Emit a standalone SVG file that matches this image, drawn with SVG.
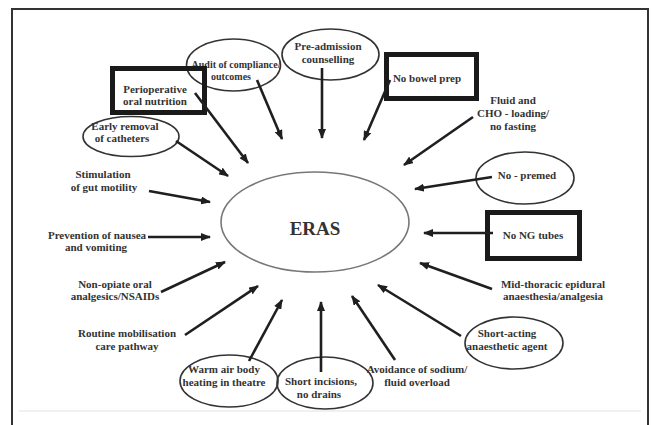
<svg xmlns="http://www.w3.org/2000/svg" width="652" height="425" viewBox="0 0 652 425">
<style>
.t{font-family:"Liberation Serif","Times New Roman",serif;font-weight:bold;font-size:11px;fill:#333;text-anchor:middle}
.el{fill:none;stroke:#333;stroke-width:1.6}
.bx{fill:none;stroke:#1a1a1a;stroke-width:5}
.ar{stroke:#1f1f1f;stroke-width:2.6;fill:none;marker-end:url(#ah)}
</style>
<defs>
<marker id="ah" viewBox="0 0 10 8" markerWidth="10" markerHeight="8" refX="9" refY="4" orient="auto" markerUnits="userSpaceOnUse">
<path d="M0,0 L10,4 L0,8 z" fill="#1f1f1f"/>
</marker>
</defs>
<rect width="652" height="425" fill="#fff"/>
<path d="M12,430 V9 H648 V430" fill="none" stroke="#333" stroke-width="2"/>
<line x1="19" y1="411" x2="641" y2="411" stroke="#e2e2e2" stroke-width="1"/>

<g id="eras">
<ellipse cx="315" cy="222" rx="94" ry="50" fill="none" stroke="#777" stroke-width="1.6"/>
<text x="315" y="235" class="t" style="font-size:19px">ERAS</text>
</g>

<g id="audit">
<ellipse class="el" cx="233.5" cy="65" rx="47" ry="26"/>
<text class="t" x="236" y="68" style="font-size:10px">Audit of compliance/</text>
<text class="t" x="231" y="80" style="font-size:10px">outcomes</text>
</g>
<g id="preadmission">
<ellipse class="el" cx="330.5" cy="54.5" rx="48.5" ry="25.5"/>
<text class="t" x="328" y="50">Pre-admission</text>
<text class="t" x="328" y="63">counselling</text>
</g>
<g id="periop">
<rect class="bx" x="112.5" y="68.5" width="92" height="44"/>
<text class="t" x="155" y="93">Perioperative</text>
<text class="t" x="155" y="105">oral nutrition</text>
</g>
<g id="early">
<ellipse class="el" cx="131" cy="136.5" rx="48" ry="20"/>
<text class="t" x="125" y="130">Early removal</text>
<text class="t" x="122" y="142">of catheters</text>
</g>
<g id="stim">
<text class="t" x="103" y="178">Stimulation</text>
<text class="t" x="104" y="191">of gut motility</text>
</g>
<g id="bowel">
<rect class="bx" x="386.5" y="54.5" width="90" height="44"/>
<text class="t" x="427" y="82">No bowel prep</text>
</g>
<g id="fluid">
<text class="t" x="513" y="104">Fluid and</text>
<text class="t" x="513" y="117">CHO - loading/</text>
<text class="t" x="513" y="130">no fasting</text>
</g>
<g id="premed">
<ellipse class="el" cx="525" cy="178" rx="49" ry="26"/>
<text class="t" x="527" y="179">No - premed</text>
</g>
<g id="ng">
<rect class="bx" x="487.5" y="212.5" width="92" height="46"/>
<text class="t" x="533" y="239">No NG tubes</text>
</g>
<g id="midthoracic">
<text class="t" x="553" y="288">Mid-thoracic epidural</text>
<text class="t" x="553" y="300">anaesthesia/analgesia</text>
</g>
<g id="shortacting">
<ellipse class="el" cx="514" cy="343" rx="49" ry="26"/>
<text class="t" x="507" y="337">Short-acting</text>
<text class="t" x="507" y="350">anaesthetic agent</text>
</g>
<g id="avoid">
<text class="t" x="417" y="373">Avoidance of sodium/</text>
<text class="t" x="417" y="386">fluid overload</text>
</g>
<g id="incisions">
<ellipse class="el" cx="325" cy="383" rx="48" ry="26"/>
<text class="t" x="321" y="385">Short incisions,</text>
<text class="t" x="319" y="398">no drains</text>
</g>
<g id="warm">
<ellipse class="el" cx="229" cy="381" rx="49" ry="26"/>
<text class="t" x="224" y="373">Warm air body</text>
<text class="t" x="224" y="386">heating in theatre</text>
</g>
<g id="routine">
<text class="t" x="127" y="337">Routine mobilisation</text>
<text class="t" x="127" y="350">care pathway</text>
</g>
<g id="nonopiate">
<text class="t" x="115" y="288">Non-opiate oral</text>
<text class="t" x="115" y="300">analgesics/NSAIDs</text>
</g>
<g id="prevention">
<text class="t" x="97" y="239">Prevention of nausea</text>
<text class="t" x="96" y="251">and vomiting</text>
</g>

<g id="connectors">
<line class="ar" x1="257" y1="80" x2="282" y2="139"/>
<line class="ar" x1="322" y1="68" x2="322" y2="138"/>
<line class="ar" x1="195" y1="93" x2="248" y2="163"/>
<line class="ar" x1="176" y1="141" x2="228" y2="176"/>
<line class="ar" x1="149" y1="191" x2="210" y2="202"/>
<line class="ar" x1="390" y1="80" x2="364" y2="140"/>
<line class="ar" x1="473" y1="117" x2="404" y2="165"/>
<line class="ar" x1="492" y1="177" x2="415" y2="189"/>
<line class="ar" x1="493" y1="233" x2="424" y2="233"/>
<line class="ar" x1="492" y1="289" x2="420" y2="263"/>
<line class="ar" x1="461" y1="336" x2="378" y2="285"/>
<line class="ar" x1="395" y1="360" x2="352" y2="296"/>
<line class="ar" x1="321" y1="372" x2="321" y2="302"/>
<line class="ar" x1="249" y1="361" x2="282" y2="300"/>
<line class="ar" x1="185" y1="335" x2="258" y2="286"/>
<line class="ar" x1="161" y1="292" x2="225" y2="262"/>
<line class="ar" x1="148" y1="237" x2="210" y2="237"/>
</g>
</svg>
